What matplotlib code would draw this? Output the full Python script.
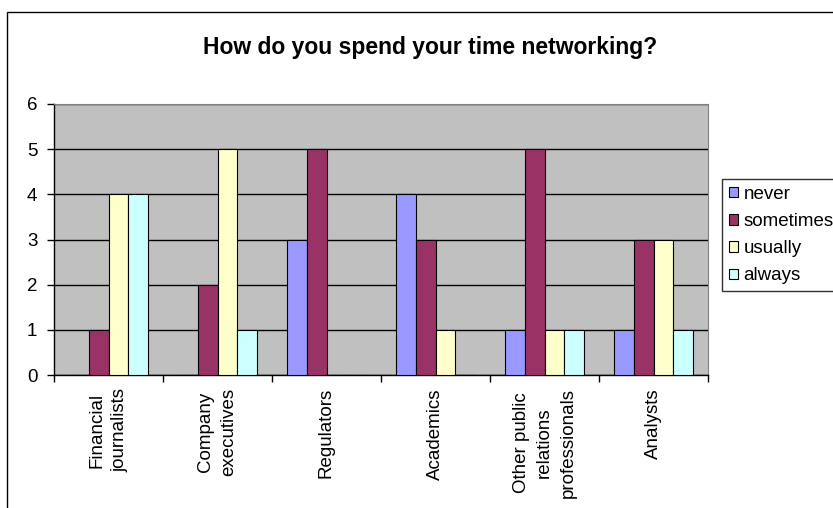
import numpy as np
import matplotlib
matplotlib.use("Agg")
import matplotlib.pyplot as plt
from matplotlib.patches import Patch, Rectangle

plt.rcParams['font.family'] = ['Liberation Sans', 'DejaVu Sans']

categories = ["Financial\njournalists", "Company\nexecutives", "Regulators",
              "Academics", "Other public\nrelations\nprofessionals", "Analysts"]
series = ["never", "sometimes", "usually", "always"]
never = [0, 0, 3, 4, 1, 1]
sometimes = [1, 2, 5, 3, 5, 3]
usually = [4, 5, 0, 1, 1, 3]
always = [4, 1, 0, 0, 1, 1]
colors = ["#9999FF", "#993366", "#FFFFCC", "#CCFFFF"]

W, H = 833, 508
fig = plt.figure(figsize=(W / 100, H / 100), dpi=100)
fig.patch.set_facecolor("white")

# outer chart border (cut off at right and bottom like the original)
fig.add_artist(Rectangle((7 / W, -0.05), 1.2, 1 - 12 / H + 0.05, transform=fig.transFigure,
                         fill=False, edgecolor="black", lw=1.0))

left, right, top, bottom = 54, 708, 104, 375
ax = fig.add_axes([left / W, 1 - bottom / H, (right - left) / W, (bottom - top) / H])
ax.set_facecolor("#C0C0C0")

x = np.arange(len(categories))
bw = 1 / 5.5
data = [never, sometimes, usually, always]
for i, (vals, c) in enumerate(zip(data, colors)):
    ax.bar(x - 1.5 * bw + i * bw, vals, width=bw, color=c, edgecolor="black",
           linewidth=0.8, zorder=3, label=series[i])

ax.set_xlim(-0.5, len(categories) - 0.5)
ax.set_ylim(0, 6)
ax.set_yticks(range(7))
ax.yaxis.grid(True, color="black", lw=1.0, zorder=1)
ax.set_axisbelow(True)
ax.set_xticks(np.arange(len(categories) + 1) - 0.5)
ax.set_xticklabels([])
ax.tick_params(axis="both", direction="out", length=5, width=1, color="black",
               labelsize=13.5, pad=7)
for s in ["top", "right"]:
    ax.spines[s].set_color("#808080")
for s in ["left", "bottom"]:
    ax.spines[s].set_color("black")
    ax.spines[s].set_linewidth(1.0)

for xi, lab in zip(x, categories):
    ax.text(xi, -13 / (bottom - top), lab, transform=ax.get_xaxis_transform(), rotation=90,
            ha="center", va="top", multialignment="center", fontsize=13.5,
            linespacing=1.5)

fig.text(430 / W, 1 - 47 / H, "How do you spend your time networking?",
         ha="center", va="center", fontsize=16.5, fontweight="bold")

handles = [Patch(facecolor=c, edgecolor="black", lw=0.8) for c in colors]
leg = fig.legend(handles, series, loc="upper left",
                 bbox_to_anchor=(722 / W, 1 - 179 / H), fontsize=13.5,
                 frameon=True, fancybox=False, handlelength=0.5, handleheight=0.5,
                 handletextpad=0.3, labelspacing=0.55, borderpad=0.35,
                 borderaxespad=0)
leg.get_frame().set_edgecolor("black")
leg.get_frame().set_linewidth(1.0)

fig.savefig("out.png", dpi=100)
